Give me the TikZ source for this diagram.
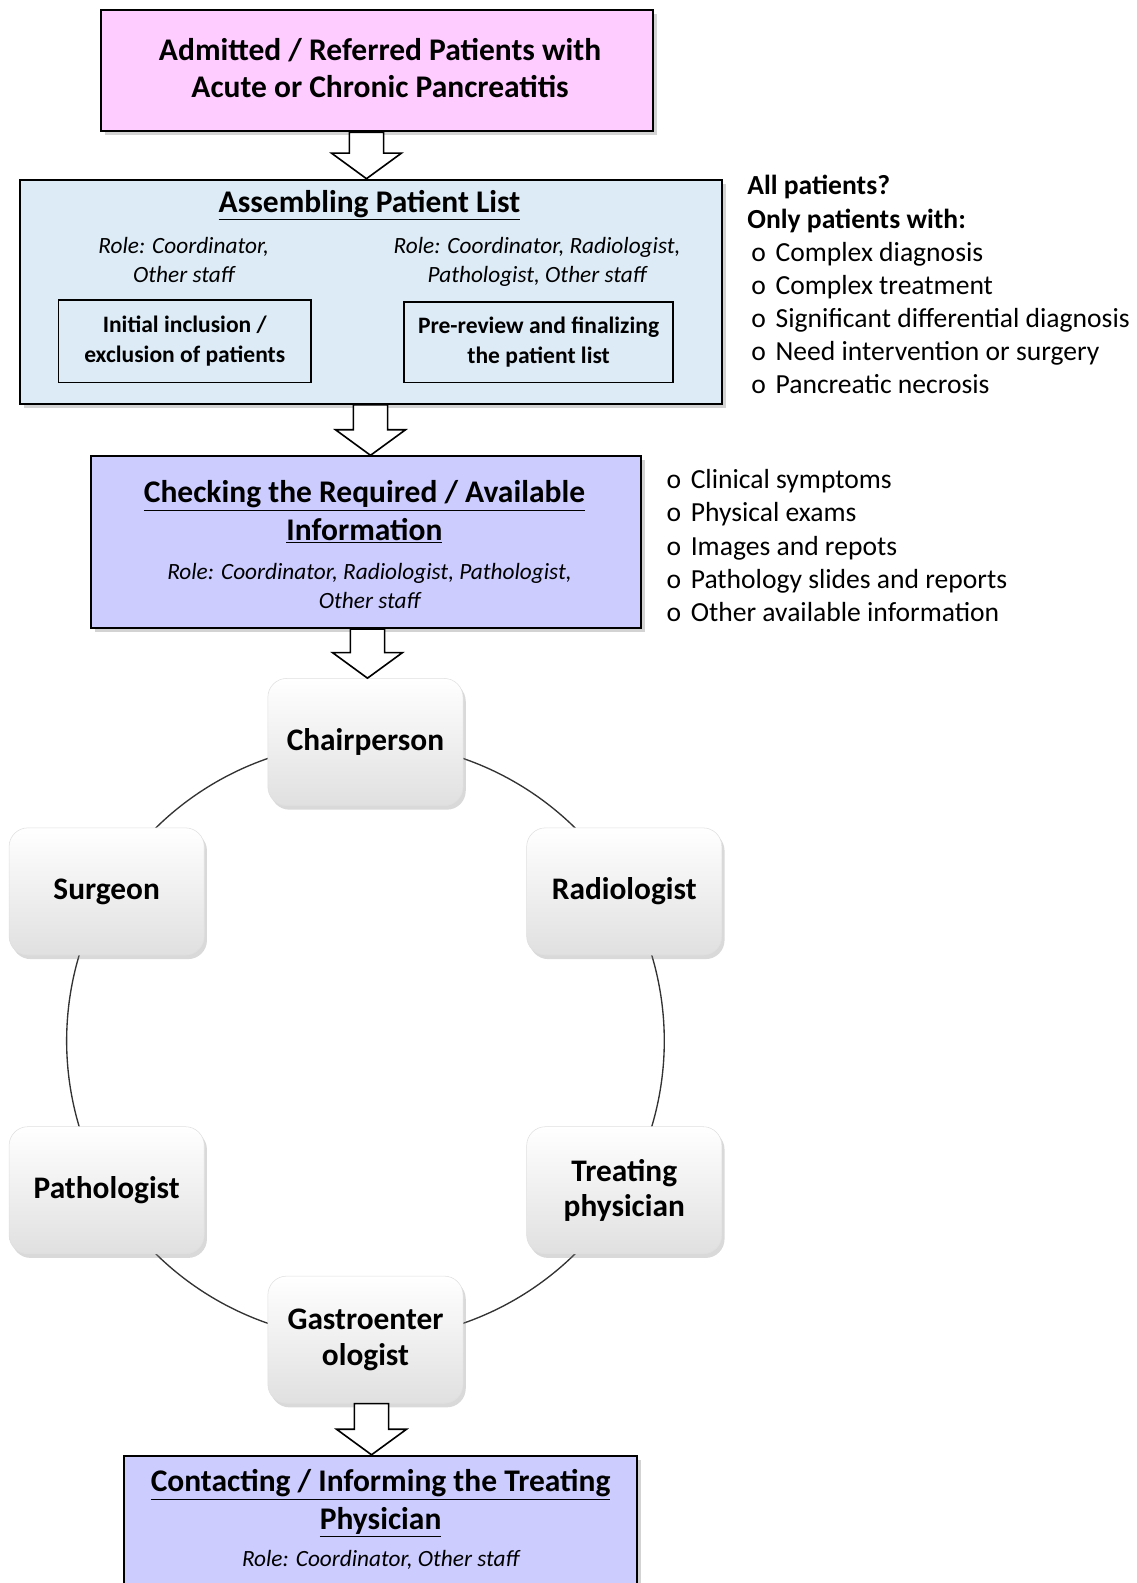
\documentclass[tikz,border=0pt]{standalone}
\usepackage{fontspec}
\setmainfont{Carlito}
\usetikzlibrary{positioning,calc,shadows,backgrounds}

\definecolor{admitpink}{RGB}{255,204,255}
\definecolor{listblue}{RGB}{221,235,247}
\definecolor{checkpurple}{RGB}{204,204,255}
\definecolor{membergray}{RGB}{224,224,224}

\tikzset{
  stage/.style={draw, line width=1.5pt, inner sep=0pt,
    drop shadow={opacity=0.35, shadow xshift=3pt, shadow yshift=-3pt}},
  substage/.style={draw, line width=1.1pt, inner sep=0pt},
  headline/.style={font=\fontsize{23.4}{27.75}\selectfont\bfseries, align=center},
  roleline/.style={font=\fontsize{17.3}{21.75}\selectfont\itshape, align=center},
  taskline/.style={font=\fontsize{17.5}{22.5}\selectfont\bfseries, align=center},
  member/.style={rounded corners=14pt, top color=white, bottom color=membergray,
    draw=gray!25, line width=0.4pt, minimum width=145pt, minimum height=94.5pt,
    align=center, font=\fontsize{23.3}{26.5}\selectfont\bfseries,
    drop shadow={opacity=0.3, shadow xshift=2pt, shadow yshift=-3pt}},
  ring/.style={line width=1pt, black!80},
  crit/.style={font=\fontsize{20.5}{24}\selectfont, anchor=base west, inner sep=0pt},
  fatarrow/.style={draw, fill=white, line width=1.2pt, line join=miter},
}

% block arrow from bottom of #2 to top of #3, #1 = sideways shift
\newcommand{\fatarrow}[3][0]{%
  \draw[fatarrow] let \p1=(#2.south), \p2=($(#3.north)+(#1,0)$) in
    (\x2-12.75pt,\y1) -- (\x2-12.75pt,\y2+19pt) -- (\x2-26pt,\y2+19pt) -- (\x2,\y2)
    -- (\x2+26pt,\y2+19pt) -- (\x2+12.75pt,\y2+19pt) -- (\x2+12.75pt,\y1) -- cycle;}

\begin{document}
\begin{tikzpicture}[x=0.75pt, y=-0.75pt]
  \path[use as bounding box, clip] (0,0) rectangle (1126,1568);

  % main stages
  \node[stage, fill=admitpink, minimum width=410.25pt, minimum height=90pt, headline]
    (admit) at (373.5,70) {};
  \node[headline] (admtitle) at (376.5,67.5) {Admitted / Referred Patients with\\Acute or Chronic Pancreatitis};

  \node[stage, fill=listblue, minimum width=521.25pt, minimum height=166.5pt]
    (assemble) at (367.5,289) {};
  \node[headline] (asmtitle) at (366,203) {\underline{Assembling Patient List}};
  \node[roleline] (asmroleA) at (182,257.5) {Role: Coordinator,\\Other staff};
  \node[roleline] (asmroleB) at (532,259.5) {Role: Coordinator, Radiologist,\\Pathologist, Other staff};
  \node[substage, taskline, fill=listblue, minimum width=187.5pt, minimum height=61.5pt]
    (initial) at (183,338) {Initial inclusion /\\exclusion of patients};
  \node[substage, taskline, fill=listblue, minimum width=200pt, minimum height=60pt]
    (prereview) at (533.5,339) {Pre-review and finalizing\\the patient list};

  \node[stage, fill=checkpurple, minimum width=408.75pt, minimum height=127.5pt]
    (check) at (362.5,537) {};
  \node[headline] (chktitle) at (361,507)
    {\underline{Checking the Required / Available}\\\underline{Information}};
  \node[roleline] (chkrole) at (366,580.5) {Role: Coordinator, Radiologist, Pathologist,\\Other staff};

  \node[stage, fill=checkpurple, minimum width=381pt, minimum height=105pt]
    (inform) at (377,1512) {};
  \node[headline] (inftitle) at (377,1489)
    {\underline{Contacting / Informing the Treating}\\\underline{Physician}};
  \node[roleline] (infrole) at (377,1545) {Role: Coordinator, Other staff};

  % criteria lists
  \node[crit, font=\fontsize{20.5}{24}\selectfont\bfseries] (allq) at (740,193) {All patients?};
  \node[crit, font=\fontsize{20.5}{24}\selectfont\bfseries] (onlyq) at (740,226) {Only patients with:};
  \foreach \t [count=\i] in {Complex diagnosis, Complex treatment,
      Significant differential diagnosis, Need intervention or surgery, Pancreatic necrosis}
    \node[crit] (need\i) at (744,{226+32.8*\i}) {\makebox[18pt][l]{o}\t};
  \foreach \t [count=\i] in {Clinical symptoms, Physical exams, Images and repots,
      Pathology slides and reports, Other available information}
    \node[crit] (info\i) at (660,{451+33*\i}) {\makebox[18pt][l]{o}\t};

  % tumour board members
  \coordinate (hub) at (362,1031);
  \foreach \name/\ang/\txt in {chair/90/Chairperson, radio/30/Radiologist,
      treat/-30/{Treating\\physician}, gastro/-90/{Gastroenter\\ologist},
      patho/210/Pathologist, surg/150/Surgeon}
    \node[member] (\name) at ([shift={(-\ang:296)}]hub) {\txt};

  % ring between members, behind the boxes
  \begin{pgfonlayer}{background}
    \foreach \name/\ang in {chair/90, surg/150, patho/210, gastro/270, treat/330, radio/390}
      \draw[ring] (\name.center) arc[start angle=-\ang, end angle={-\ang-60}, radius=296];
  \end{pgfonlayer}

  % flow arrows
  \fatarrow[-4.5]{admit}{assemble}
  \fatarrow[4.5]{assemble}{check}
  \fatarrow[2]{check}{chair}
  \fatarrow[-9]{gastro}{inform}
\end{tikzpicture}
\end{document}
